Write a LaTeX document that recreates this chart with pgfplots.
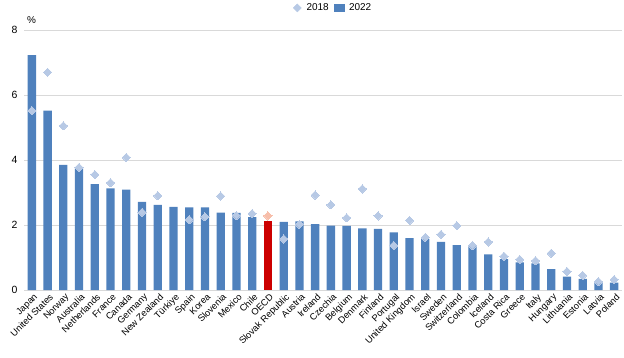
\documentclass[border=0pt]{standalone}
\usepackage{pgfplots}
\pgfplotsset{compat=1.18}
\usepackage{fontspec}
\setmainfont{Liberation Sans}
\definecolor{barblue}{RGB}{79,129,189}
\definecolor{diablue}{RGB}{183,201,229}
\definecolor{oecdred}{RGB}{204,0,0}
\definecolor{oecdpink}{RGB}{247,190,170}
\definecolor{gridgray}{RGB}{217,217,217}
\begin{document}
\begin{tikzpicture}[x=1bp,y=1bp]
\useasboundingbox (0,0) rectangle (624,357);
\begin{axis}[
  at={(24bp,67bp)}, anchor=south west,
  scale only axis, width=598bp, height=260bp,
  xmin=-0.5, xmax=37.5, ymin=0, ymax=8,
  ytick={0,2,4,6,8},
  xtick={0,...,37},
  xticklabels={Japan,United States,Norway,Australia,Netherlands,France,Canada,Germany,New Zealand,Türkiye,Spain,Korea,Slovenia,Mexico,Chile,OECD,Slovak Republic,Austria,Ireland,Czechia,Belgium,Denmark,Finland,Portugal,United Kingdom,Israel,Sweden,Switzerland,Colombia,Iceland,Costa Rica,Greece,Italy,Hungary,Lithuania,Estonia,Latvia,Poland},
  xticklabel style={rotate=45, anchor=north east, font=\fontsize{9.3}{10}\selectfont, inner sep=1bp, yshift=-2bp},
  yticklabel style={font=\fontsize{10.5}{11}\selectfont, xshift=-3bp},
  /pgf/number format/assume math mode=true,
  major tick length=0pt,
  axis line style={draw=none},
  ymajorgrids, grid style={gridgray, line width=0.8bp},
  legend columns=2,
  legend style={at={(rel axis cs:0.517,1.085)}, anchor=center, draw=none, fill=none,
    font=\fontsize{10}{11}\selectfont, column sep=3bp, inner sep=0pt},
  clip=false,
]
\addlegendimage{legend image code/.code={\fill[diablue] (5bp,0) ++(0,-4bp) -- ++(4bp,4bp) -- ++(-4bp,4bp) -- ++(-4bp,-4bp) -- cycle;}}
\addlegendentry{2018}
\addlegendimage{legend image code/.code={\fill[barblue] (0bp,-3.5bp) rectangle (10bp,3.5bp);}}
\addlegendentry{2022}
\addplot[ybar, bar width=8.3bp, bar shift=0pt, fill=barblue, draw=none, forget plot] coordinates {
(0,7.23) (1,5.52) (2,3.85) (3,3.74) (4,3.26) (5,3.13) (6,3.09) (7,2.71) (8,2.62) (9,2.56)
(10,2.54) (11,2.54) (12,2.38) (13,2.37) (14,2.24) (16,2.10) (17,2.11) (18,2.03) (19,1.98)
(20,1.97) (21,1.90) (22,1.88) (23,1.77) (24,1.60) (25,1.57) (26,1.48) (27,1.38) (28,1.35)
(29,1.10) (30,0.95) (31,0.85) (32,0.82) (33,0.64) (34,0.41) (35,0.34) (36,0.23) (37,0.23)
};
\addplot[ybar, bar width=8.3bp, bar shift=0pt, fill=oecdred, draw=none, forget plot] coordinates {(15,2.12)};
\addplot[only marks, color=diablue, mark=square*, mark size=2.9bp, mark options={rotate=45, draw=diablue, fill=diablue, line width=0pt}, forget plot] coordinates {
(0,5.52) (1,6.70) (2,5.05) (3,3.77) (4,3.55) (5,3.30) (6,4.08) (7,2.39) (8,2.90)
(10,2.16) (11,2.25) (12,2.89) (13,2.29) (14,2.35) (16,1.57) (17,2.02) (18,2.92) (19,2.62)
(20,2.22) (21,3.11) (22,2.28) (23,1.37) (24,2.14) (25,1.62) (26,1.71) (27,1.98) (28,1.37)
(29,1.48) (30,1.04) (31,0.94) (32,0.90) (33,1.13) (34,0.57) (35,0.45) (36,0.26) (37,0.32)
};
\addplot[only marks, color=oecdpink, mark=square*, mark size=2.9bp, mark options={rotate=45, draw=oecdpink, fill=oecdpink, line width=0pt}, forget plot] coordinates {(15,2.28)};
\node[anchor=south west, font=\fontsize{10}{11}\selectfont, inner sep=0pt] at (rel axis cs:0.005,1.025) {\%};
\end{axis}
\end{tikzpicture}
\end{document}
